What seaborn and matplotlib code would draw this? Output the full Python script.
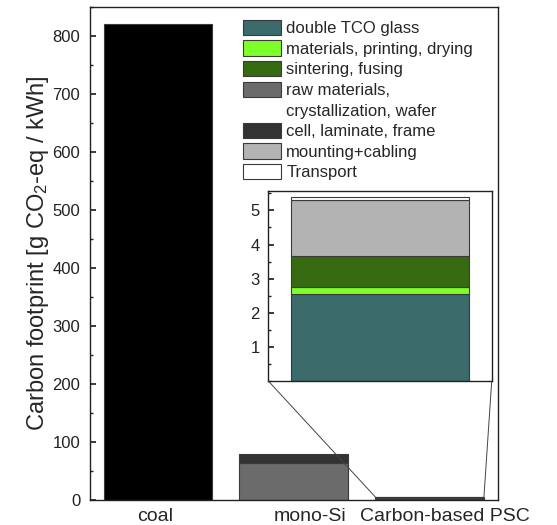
import matplotlib
matplotlib.use("Agg")
import matplotlib.pyplot as plt
import matplotlib.ticker as mticker
import matplotlib.transforms as mtransforms
from matplotlib.patches import Patch, ConnectionPatch
import seaborn as sns
import pandas as pd

# ── data ───────────────────────────────────────────────────────────────────
CATEGORIES = ["coal", "mono-Si", "Carbon-based PSC"]

# stacking order (bottom -> top) and values per category
LAYERS = [
    "coal",
    "double TCO glass",
    "materials, printing, drying",
    "sintering, fusing",
    "raw materials",
    "cell, laminate, frame",
    "mounting+cabling",
    "Transport",
]
COAL = [820, 0, 0]
TCO_GLASS = [0, 0, 2.55]
PRINTING = [0, 0, 0.2]
SINTERING = [0, 0, 0.9]
RAW_MATERIALS = [0, 64, 0]
CELL_LAMINATE = [0, 15, 0]
MOUNTING = [0, 0, 1.65]
TRANSPORT = [0, 0, 0.08]

COLORS = {
    "coal": "#000000",
    "double TCO glass": "#3b6b6b",
    "materials, printing, drying": "#7fff2a",
    "sintering, fusing": "#376b12",
    "raw materials": "#6b6b6b",
    "cell, laminate, frame": "#333333",
    "mounting+cabling": "#b3b3b3",
    "Transport": "#ffffff",
}

sns.set_theme(style="ticks")
plt.rcParams.update({
    "font.family": ["Liberation Sans", "DejaVu Sans"],
    "font.size": 10,
    "axes.linewidth": 1.0,
    "axes.edgecolor": "#222222",
    "xtick.major.size": 0,
    "ytick.direction": "in",
    "ytick.major.size": 4.5,
    "ytick.minor.size": 2.5,
    "ytick.color": "#222222",
    "mathtext.default": "regular",
})

values = [COAL, TCO_GLASS, PRINTING, SINTERING, RAW_MATERIALS,
          CELL_LAMINATE, MOUNTING, TRANSPORT]
rows = []
bottoms = [0.0] * len(CATEGORIES)
for layer, vals in zip(LAYERS, values):
    for i, cat in enumerate(CATEGORIES):
        rows.append({"category": cat, "layer": layer, "value": vals[i], "bottom": bottoms[i]})
        bottoms[i] += vals[i]
df = pd.DataFrame(rows)


def draw_stack(ax):
    for layer in LAYERS:
        sub = df[(df["layer"] == layer) & (df["value"] > 0)]
        sns.barplot(data=sub, x="category", y="value", order=CATEGORIES,
                    bottom=sub["bottom"].values, color=COLORS[layer],
                    saturation=1, errorbar=None, width=0.8,
                    edgecolor="#3a3a3a", linewidth=0.8, ax=ax)


fig = plt.figure(figsize=(5.57, 5.25), dpi=100)
ax = fig.add_axes([0.1616, 0.0476, 0.7316, 0.9391])
draw_stack(ax)
ax.set_xlim(-0.5, 2.5)
ax.set_ylim(0, 850)
ax.yaxis.set_major_locator(mticker.MultipleLocator(100))
ax.yaxis.set_minor_locator(mticker.MultipleLocator(50))
ax.set_xlabel("")
ax.set_ylabel("Carbon footprint [g CO$_2$-eq / kWh]", fontsize=17, labelpad=1)
ax.tick_params(axis="x", labelsize=14, pad=6)
ax.tick_params(axis="y", labelsize=12, pad=7)

# the original labels sit a little right of their bars
for lab, dx in zip(ax.get_xticklabels(), [-3, 16, 15]):
    lab.set_transform(lab.get_transform() +
                      mtransforms.ScaledTranslation(dx / 100, 0, fig.dpi_scale_trans))

# inset zoom on the perovskite bar
ins = fig.add_axes([0.4817, 0.2743, 0.4011, 0.3619])
draw_stack(ins)
ins.set_xlim(1.5, 2.5)
ins.set_ylim(0, 5.57)
ins.set_xticks([])
ins.set_xlabel("")
ins.set_ylabel("")
ins.yaxis.set_major_locator(mticker.FixedLocator([1, 2, 3, 4, 5]))
ins.yaxis.set_minor_locator(mticker.MultipleLocator(0.5))
ins.tick_params(axis="y", labelsize=12, pad=6)

psc_top = sum(v[2] for v in values)
for xa, xb in [(1.6, 0), (2.4, 1)]:
    con = ConnectionPatch(xyA=(xa, psc_top), coordsA=ax.transData,
                          xyB=(xb, 0), coordsB=ins.transAxes,
                          color="#444444", linewidth=0.7)
    fig.add_artist(con)

# legend
handles = []
labels = []
for layer in LAYERS[1:]:
    if layer == "raw materials":
        handles.append(Patch(facecolor=COLORS[layer], edgecolor="#3a3a3a", linewidth=0.8))
        labels.append("raw materials,")
        handles.append(Patch(facecolor="none", edgecolor="none"))
        labels.append("crystallization, wafer")
    else:
        handles.append(Patch(facecolor=COLORS[layer], edgecolor="#3a3a3a", linewidth=0.8))
        labels.append(layer)
ax.legend(handles, labels, loc="upper left", bbox_to_anchor=(0.375, 0.974),
          frameon=False, fontsize=12, handlelength=2.3, handleheight=1.05,
          labelspacing=0.25, handletextpad=0.3, borderaxespad=0, borderpad=0)

fig.savefig("out.png", dpi=100)
